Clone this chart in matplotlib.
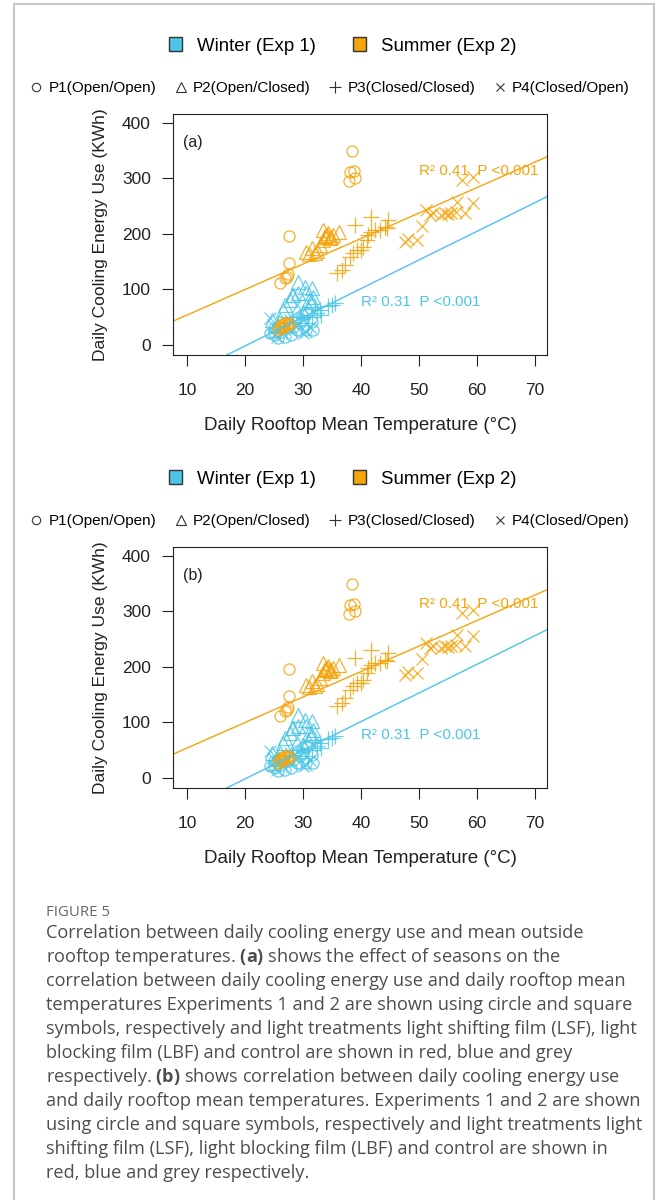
import matplotlib.pyplot as plt
import numpy as np
from matplotlib.lines import Line2D
from matplotlib.patches import Patch, Rectangle

plt.rcParams['font.family'] = ['Liberation Sans', 'DejaVu Sans']
plt.rcParams['mathtext.fontset'] = 'custom'
plt.rcParams['mathtext.rm'] = 'Open Sans'
plt.rcParams['mathtext.bf'] = 'Open Sans:bold'

WINTER = '#4cc6e8'
SUMMER = '#f6a40c'
INK = '#222222'

# Winter (Exp 1) daily rooftop mean temperature (degC) / cooling energy (kWh)
winter_p1_t = [25.2, 25.7, 26.9, 28.0, 28.3, 29.5, 30.1, 31.5, 31.8, 30.6, 28.9, 24.3, 29.8, 30.6, 26.2, 27.5, 25.0, 29.0]
winter_p1_e = [18, 12, 15, 18, 33, 39, 45, 42, 27, 27, 27, 21, 54, 57, 24, 30, 30, 48]
winter_p2_t = [29.2, 30.3, 31.5, 28.1, 29.2, 30.6, 26.9, 27.8, 31.5, 31.8, 28.9, 30.1, 30.9, 24.6, 26.0, 24.9, 26.6, 28.3, 31.1, 25.5]
winter_p2_e = [114, 105, 102, 90, 93, 93, 72, 81, 78, 87, 63, 60, 66, 45, 45, 27, 63, 90, 81, 36]
winter_p3_t = [35.0, 34.4, 32.4, 32.9, 31.5, 30.9, 29.5, 28.3, 32.1, 33.2, 35.5]
winter_p3_e = [72, 70, 57, 63, 51, 39, 51, 42, 69, 54, 75]
winter_p4_t = [24.3, 24.9, 26.0, 27.2, 28.0, 30.1, 29.2, 31.2, 25.5, 26.6, 30.6, 27.8]
winter_p4_e = [48, 36, 27, 33, 27, 21, 36, 33, 15, 21, 24, 45]

# Summer (Exp 2)
summer_p1_t = [38.5, 38.2, 38.8, 39.0, 38.0, 27.6, 27.6, 27.5, 27.2, 26.0, 26.9,
               25.7, 26.0, 26.3, 26.6, 27.0, 27.4, 27.8, 26.8, 27.2, 26.2]
summer_p1_e = [350, 311, 313, 300, 296, 197, 148, 128, 123, 111, 121,
               27, 33, 36, 38, 40, 40, 38, 33, 36, 30]
summer_p2_t = [30.6, 31.5, 31.1, 32.1, 32.4, 32.9, 33.4, 33.5, 33.9, 34.4, 34.7, 34.9, 35.2, 36.2, 33.8, 34.2]
summer_p2_e = [168, 174, 164, 165, 170, 180, 189, 207, 196, 201, 192, 195, 198, 204, 194, 198]
summer_p3_t = [35.8, 36.7, 37.2, 38.1, 38.7, 39.3, 40.4, 41.0, 41.3, 41.8, 42.4, 43.3, 44.1, 44.7, 41.8, 39.0, 40.1, 44.5]
summer_p3_e = [129, 135, 144, 159, 165, 171, 177, 189, 198, 204, 207, 207, 213, 225, 231, 216, 171, 210]
summer_p4_t = [47.6, 48.2, 49.7, 50.6, 51.3, 51.9, 52.5, 53.9, 54.5, 55.1, 55.6, 56.4, 56.5, 57.4, 57.9, 59.4, 59.4]
summer_p4_e = [186, 190, 189, 214, 243, 234, 237, 234, 237, 236, 238, 240, 258, 297, 237, 303, 256]

# Linear fits per season: intercept, slope, label position
fit_intercepts = [-105, 8]
fit_slopes = [5.16, 4.59]
fit_labels = ['R\u00b2 0.31  P <0.001', 'R\u00b2 0.41  P <0.001']
fit_label_t = [40.0, 50.0]
fit_label_e = [77, 313]

season_names = ['Winter (Exp 1)', 'Summer (Exp 2)']
season_colors = [WINTER, SUMMER]
treatment_names = ['P1(Open/Open)', 'P2(Open/Closed)', 'P3(Closed/Closed)', 'P4(Closed/Open)']
treatment_markers = ['o', '^', '+', 'x']
treatment_sizes = [8, 9.5, 11, 8.5]

seasons = [
    [(winter_p1_t, winter_p1_e), (winter_p2_t, winter_p2_e),
     (winter_p3_t, winter_p3_e), (winter_p4_t, winter_p4_e)],
    [(summer_p1_t, summer_p1_e), (summer_p2_t, summer_p2_e),
     (summer_p3_t, summer_p3_e), (summer_p4_t, summer_p4_e)],
]

W, H = 656, 1200
fig = plt.figure(figsize=(W / 100, H / 100), dpi=100)


def fx(px):
    return px / W


def fy(py):
    return 1 - py / H


def draw_panel(top, tag):
    ax = fig.add_axes([fx(173), fy(top + 241), fx(374), 241 / H])
    for color, groups in zip(season_colors, seasons):
        for (t, e), m, ms in zip(groups, treatment_markers, treatment_sizes):
            ax.plot(t, e, linestyle='none', marker=m, markersize=ms,
                    markerfacecolor='none', markeredgecolor=color,
                    markeredgewidth=0.9, alpha=0.85)
    for b, m, color in zip(fit_intercepts, fit_slopes, season_colors):
        ax.axline((0, b), slope=m, color=color, linewidth=1.0)
    for lab, t, e, color in zip(fit_labels, fit_label_t, fit_label_e, season_colors):
        ax.text(t, e, lab, color=color, fontsize=11, va='center', ha='left')
    ax.text(0.027, 0.88, tag, transform=ax.transAxes, fontsize=11.5,
            color=INK, va='center', ha='left')

    ax.set_xlim(7.6, 72.1)
    ax.set_ylim(-18, 416)
    ax.set_xticks(range(10, 71, 10))
    ax.set_yticks(range(0, 401, 100))
    ax.tick_params(direction='out', length=8, width=0.8, color=INK,
                   labelsize=12.5, labelcolor=INK)
    ax.tick_params(axis='x', pad=12)
    ax.tick_params(axis='y', pad=8)
    for s in ax.spines.values():
        s.set_color(INK)
        s.set_linewidth(0.8)
    ax.set_xlabel('Daily Rooftop Mean Temperature (\u00b0C)', fontsize=13.5,
                  color=INK, labelpad=14)
    ax.set_ylabel('Daily Cooling Energy Use (KWh)', fontsize=12.5,
                  color=INK, labelpad=10)

    season_handles = [Patch(facecolor=c, edgecolor='#333333', linewidth=1.0)
                      for c in season_colors]
    fig.legend(season_handles, season_names, loc='center',
               bbox_to_anchor=(fx(343), fy(top - 68)), ncol=2, frameon=False,
               fontsize=13.4, handlelength=0.7, handleheight=0.7,
               handletextpad=0.8, columnspacing=2.0)
    marker_handles = [Line2D([], [], linestyle='none', marker=m, markersize=s * 0.75,
                             markerfacecolor='none', markeredgecolor='#333333',
                             markeredgewidth=0.8)
                      for m, s in zip(treatment_markers, treatment_sizes)]
    fig.legend(marker_handles, treatment_names, loc='center',
               bbox_to_anchor=(fx(330), fy(top - 26)), ncol=4, frameon=False,
               fontsize=11, handlelength=0.8, handletextpad=0.4,
               columnspacing=1.2)


draw_panel(114, '(a)')
draw_panel(547, '(b)')

# Card border
fig.add_artist(Rectangle((fx(14), fy(1210)), fx(640), (1206) / H,
                         transform=fig.transFigure, fill=False,
                         edgecolor='#c8c8c8', linewidth=1.5))

caption = [
    'Correlation between daily cooling energy use and mean outside',
    r'rooftop temperatures. $\mathbf{(a)}$ shows the effect of seasons on the',
    'correlation between daily cooling energy use and daily rooftop mean',
    'temperatures Experiments 1 and 2 are shown using circle and square',
    'symbols, respectively and light treatments light shifting film (LSF), light',
    'blocking film (LBF) and control are shown in red, blue and grey',
    r'respectively. $\mathbf{(b)}$ shows correlation between daily cooling energy use',
    'and daily rooftop mean temperatures. Experiments 1 and 2 are shown',
    'using circle and square symbols, respectively and light treatments light',
    'shifting film (LSF), light blocking film (LBF) and control are shown in',
    'red, blue and grey respectively.',
]
fig.text(fx(46), fy(913), 'FIGURE 5', fontsize=10.8, color='#666666',
         family=['Open Sans', 'DejaVu Sans'], va='center', ha='left')
for i, line in enumerate(caption):
    fig.text(fx(46), fy(933 + 24.05 * i), line, fontsize=13.1, color='#4d4d4d',
             family=['Open Sans', 'DejaVu Sans'], va='center', ha='left')

fig.savefig('out.png', dpi=100)
